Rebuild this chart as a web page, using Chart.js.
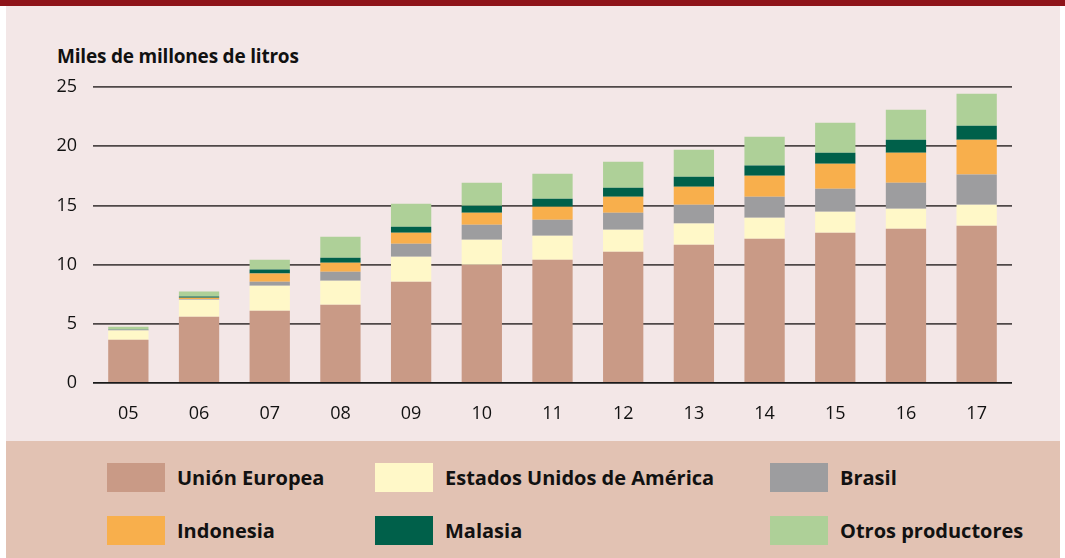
<!DOCTYPE html>
<html>
<head>
<meta charset="utf-8">
<script src="https://cdn.jsdelivr.net/npm/chart.js@4"></script>
<style>
  body { margin: 0; background: #fff; font-family: 'Open Sans', sans-serif; }
  #wrap { position: relative; width: 1065px; height: 558px; overflow: hidden; }
  #band { position: absolute; left: 0; top: 0; width: 1065px; height: 6px; background: #8E1419; }
  #panel { position: absolute; left: 6px; top: 6px; width: 1054px; height: 435px; background: #F3E7E7; }
  #legendBox { position: absolute; left: 6px; top: 441px; width: 1054px; height: 117px; background: #E2C2B3; }
  #unit { position: absolute; left: 57px; top: 43px; font-size: 19px; font-weight: 700; color: #111; letter-spacing: -0.2px; }
  #chartBox { position: absolute; left: 0; top: 0; width: 1065px; height: 441px; }
  .item { position: absolute; display: flex; align-items: center; font-size: 20px; font-weight: 700; color: #111; }
  .sw { width: 58px; height: 29px; margin-right: 12px; }
</style>
</head>
<body>
<div id="wrap">
  <div id="band"></div>
  <div id="panel"></div>
  <div id="legendBox"></div>
  <div id="unit">Miles de millones de litros</div>
  <div id="chartBox"><canvas id="chart" width="1065" height="441"></canvas></div>
  <div id="legend"></div>
</div>
<script>
const years = ['05', '06', '07', '08', '09', '10', '11', '12', '13', '14', '15', '16', '17'];
const yTicks = [0, 5, 10, 15, 20, 25];

const unionEuropea = [3.66, 5.60, 6.11, 6.61, 8.56, 9.99, 10.41, 11.09, 11.68, 12.19, 12.69, 13.03, 13.28];
const estadosUnidos = [0.78, 1.44, 2.11, 2.03, 2.11, 2.11, 2.03, 1.86, 1.79, 1.77, 1.78, 1.69, 1.78];
const brasil = [0.05, 0.05, 0.34, 0.76, 1.10, 1.27, 1.35, 1.43, 1.59, 1.77, 1.94, 2.20, 2.54];
const indonesia = [0.0, 0.12, 0.68, 0.76, 0.92, 1.01, 1.10, 1.35, 1.52, 1.78, 2.11, 2.53, 2.95];
const malasia = [0.03, 0.10, 0.34, 0.42, 0.51, 0.59, 0.68, 0.76, 0.84, 0.85, 0.93, 1.10, 1.18];
const otros = [0.23, 0.42, 0.83, 1.77, 1.94, 1.95, 2.11, 2.20, 2.29, 2.44, 2.53, 2.53, 2.70];

const series = [
    { label: 'Unión Europea', data: unionEuropea, color: '#C99A86' },
    { label: 'Estados Unidos de América', data: estadosUnidos, color: '#FFF8C8' },
    { label: 'Brasil', data: brasil, color: '#9D9D9F' },
    { label: 'Indonesia', data: indonesia, color: '#F8AF4C' },
    { label: 'Malasia', data: malasia, color: '#00604A' },
    { label: 'Otros productores', data: otros, color: '#AED098' }
];

const font = 'Open Sans';

new Chart(document.getElementById('chart'), {
    type: 'bar',
    data: {
        labels: years,
        datasets: series.map(s => ({
            label: s.label,
            data: s.data,
            backgroundColor: s.color,
            borderWidth: 0,
            barPercentage: 0.57,
            categoryPercentage: 1
        }))
    },
    options: {
        responsive: false,
        animation: false,
        layout: { padding: { top: 87, right: 53, left: 0, bottom: 0 } },
        plugins: {
            legend: { display: false },
            tooltip: { enabled: false }
        },
        scales: {
            x: {
                stacked: true,
                grid: { display: false },
                border: { display: false },
                ticks: { color: '#111', padding: 12, font: { family: font, size: 18 } },
                afterFit: (scale) => { scale.height = 58; }
            },
            y: {
                stacked: true,
                min: 0,
                max: 25,
                afterBuildTicks: (scale) => { scale.ticks = yTicks.map(v => ({ value: v })); },
                grid: {
                    drawTicks: false,
                    color: (ctx) => ctx.tick && ctx.tick.value === 0 ? '#1a1a1a' : '#4f4848',
                    lineWidth: 1.8
                },
                border: { display: false },
                ticks: { color: '#111', padding: 16, font: { family: font, size: 18 } },
                afterFit: (scale) => { scale.width = 93; }
            }
        }
    }
});

// legend, three columns by two rows
const colX = [107, 375, 770];
const rowY = [463, 516];
const legend = document.getElementById('legend');
series.forEach((s, i) => {
    const el = document.createElement('div');
    el.className = 'item';
    el.style.left = colX[i % 3] + 'px';
    el.style.top = rowY[Math.floor(i / 3)] + 'px';
    el.innerHTML = '<div class="sw" style="background:' + s.color + '"></div><span>' + s.label + '</span>';
    legend.appendChild(el);
});
</script>
</body>
</html>
